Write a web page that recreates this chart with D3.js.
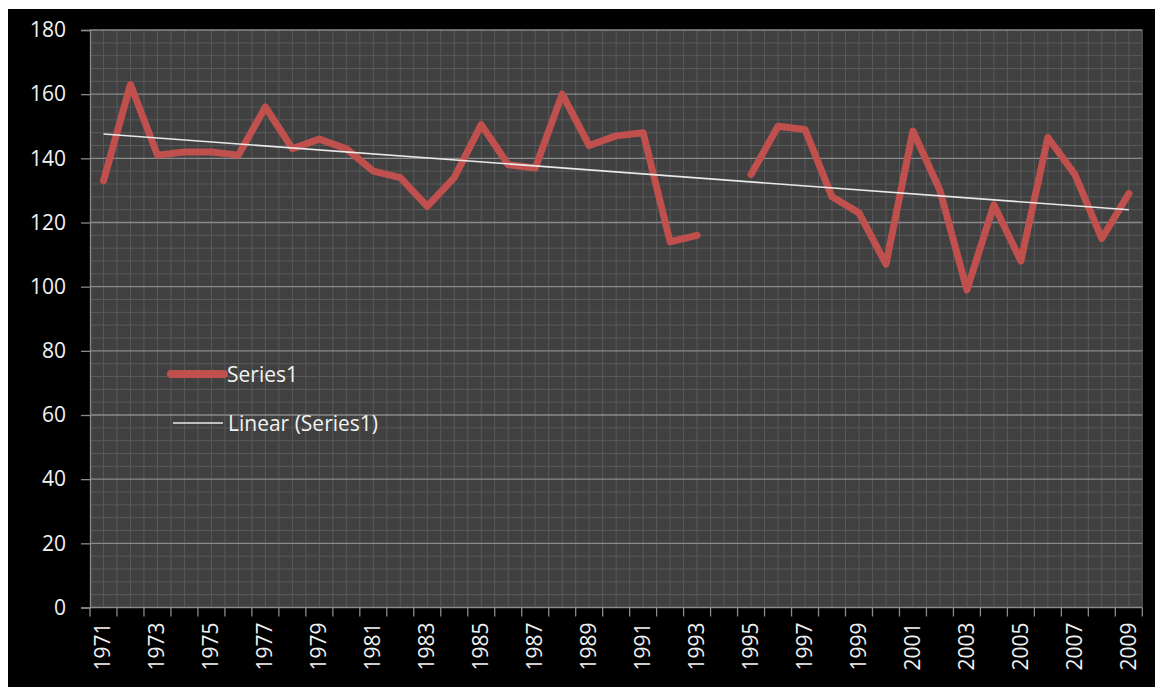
<!DOCTYPE html>
<html><head><meta charset="utf-8">
<script src="https://cdn.jsdelivr.net/npm/d3@7"></script>
<style>
html,body{margin:0;padding:0;background:#fff;}
svg{display:block;}
text{font-family:"Open Sans",sans-serif;fill:#f2f2f2;}
</style></head>
<body>
<svg id="c" width="1155" height="687"></svg>
<script>
const years = d3.range(1971, 2010).map(String);
const series1 = [133,163,141,142,142,141,156,143,146,143,136,134,125,134,150.5,138,137,160,144,147,148,114,116,null,135,150,149,128,123,107,148.5,130,99,125.5,108,146.5,135,115,129];
const yTicks = [0,20,40,60,80,100,120,140,160,180];
const xTickLabels = years.filter((d,i)=>i%2===0);
const legendLabels = ["Series1","Linear (Series1)"];

const svg = d3.select("#c");
svg.append("rect").attr("x",8).attr("y",9).attr("width",1147).attr("height",678).attr("fill","#000");

const L=90,R=1142.3,T=30,B=607.5;
const x = d3.scaleBand().domain(years).range([L,R]).padding(0);
const y = d3.scaleLinear().domain([0,180]).range([B,T]);

svg.append("rect").attr("x",L).attr("y",T).attr("width",R-L).attr("height",B-T).attr("fill","#404040");

const g = svg.append("g");
// minor horizontal grid
const minorY = d3.range(0,181,4).filter(v=>v%20!==0);
g.selectAll(".hm").data(minorY).join("line")
 .attr("x1",L).attr("x2",R).attr("y1",d=>y(d)).attr("y2",d=>y(d))
 .attr("stroke","#595959").attr("stroke-width",1);
// vertical grid (boundaries + centers)
const bw = x.bandwidth();
const vx = [];
years.forEach(yr=>{vx.push(x(yr)); vx.push(x(yr)+bw/2);});
vx.push(R);
g.selectAll(".vg").data(vx.slice(1)).join("line")
 .attr("x1",d=>d).attr("x2",d=>d).attr("y1",T).attr("y2",B)
 .attr("stroke","#595959").attr("stroke-width",1);
// major horizontal grid
g.selectAll(".hM").data(yTicks.filter(v=>v>0)).join("line")
 .attr("x1",L).attr("x2",R).attr("y1",d=>y(d)).attr("y2",d=>y(d))
 .attr("stroke","#8a8a8a").attr("stroke-width",1.3);

// y axis
const yAxis = d3.axisLeft(y).tickValues(yTicks).tickSize(9).tickPadding(15);
const ya = svg.append("g").attr("transform",`translate(${L},0)`).call(yAxis);
ya.select(".domain").attr("stroke","#8a8a8a").attr("stroke-width",1.3);
ya.selectAll(".tick line").attr("stroke","#8a8a8a").attr("stroke-width",1.3);
ya.selectAll(".tick text").attr("font-size",21).attr("fill","#f2f2f2").attr("font-family","Open Sans");

// x axis: ticks at band boundaries
const xa = svg.append("g").attr("transform",`translate(0,${B})`);
const bounds = years.map(yr=>x(yr)).concat([R]);
xa.append("line").attr("x1",L).attr("x2",R).attr("y1",0).attr("y2",0).attr("stroke","#8a8a8a").attr("stroke-width",1.3);
xa.selectAll(".xt").data(bounds).join("line")
 .attr("x1",d=>d).attr("x2",d=>d).attr("y1",0).attr("y2",9)
 .attr("stroke","#8a8a8a").attr("stroke-width",1.3);
xa.selectAll(".xl").data(xTickLabels).join("text")
 .attr("transform",d=>`translate(${x(d)+bw/2+7},${15}) rotate(-90)`)
 .attr("text-anchor","end").attr("font-size",21).text(d=>d);

// data line
const pts = years.map((yr,i)=>({yr,v:series1[i]}));
const line = d3.line().defined(d=>d.v!==null).x(d=>x(d.yr)+bw/2).y(d=>y(d.v));
svg.append("path").datum(pts).attr("d",line).attr("fill","none")
 .attr("stroke","#c0504d").attr("stroke-width",7).attr("stroke-linejoin","round").attr("stroke-linecap","round");

// linear trend (least squares on category index)
const valid = pts.map((d,i)=>({i:i+1,v:d.v})).filter(d=>d.v!==null);
const mx = d3.mean(valid,d=>d.i), my = d3.mean(valid,d=>d.v);
const slope = d3.sum(valid,d=>(d.i-mx)*(d.v-my))/d3.sum(valid,d=>(d.i-mx)*(d.i-mx));
const icpt = my - slope*mx;
const trend = [{yr:years[0],v:icpt+slope*1},{yr:years[years.length-1],v:icpt+slope*years.length}];
svg.append("path").datum(trend).attr("d",d3.line().x(d=>x(d.yr)+bw/2).y(d=>y(d.v)))
 .attr("fill","none").attr("stroke","#e8e8e8").attr("stroke-width",1.6);

// legend
const lg = svg.append("g");
lg.append("line").attr("x1",171).attr("x2",224).attr("y1",374).attr("y2",374)
 .attr("stroke","#c0504d").attr("stroke-width",8).attr("stroke-linecap","round");
lg.append("text").attr("x",227).attr("y",381.5).attr("font-size",21).text(legendLabels[0]);
lg.append("line").attr("x1",173).attr("x2",223).attr("y1",423).attr("y2",423)
 .attr("stroke","#e8e8e8").attr("stroke-width",1.6);
lg.append("text").attr("x",228).attr("y",431).attr("font-size",21).text(legendLabels[1]);
</script>
</body></html>
